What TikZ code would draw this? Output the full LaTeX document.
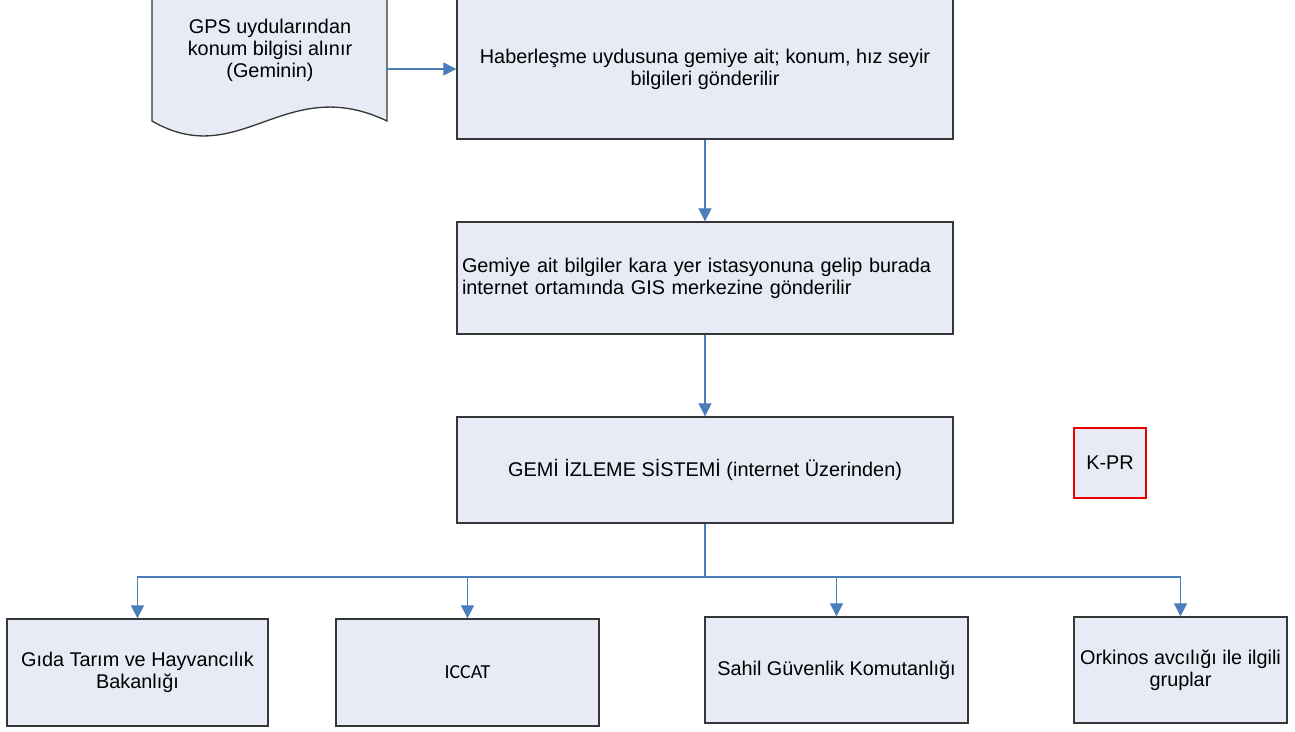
\documentclass[tikz,border=0pt]{standalone}
\usepackage{fontspec}
\setmainfont{Liberation Sans}
\newfontfamily\calibrifont{Carlito}
\usepackage{xcolor}
\usepackage{tikz}
\usetikzlibrary{positioning,calc,arrows.meta}
\definecolor{boxfill}{RGB}{231,235,245}
\definecolor{boxline}{RGB}{55,55,55}
\definecolor{linkblue}{RGB}{74,126,187}
\definecolor{kprred}{RGB}{230,0,0}
\tikzset{
	txt/.style={font=\fontsize{11.3}{12.6}\selectfont},
	box/.style={txt, draw=boxline, fill=boxfill, line width=0.75pt, inner sep=0pt, align=center},
	link/.style={draw=linkblue, line width=0.6pt, -{Triangle[width=7.4pt,length=7.4pt]}}
}
\begin{document}
\begin{tikzpicture}[x=0.02cm,y=-0.02cm]
								\def\U{0.02cm}
								\useasboundingbox (0,0) rectangle (1295,731);
								\clip (0,0) rectangle (1295,731);
								% belge sekli (gps)
								\draw[draw=boxline, fill=boxfill, line width=0.75pt] (152,-5) -- (152,121) .. controls (240,172) and (285,72) .. (387,121) -- (387,-5) -- cycle;
								\node[txt, align=center] (gps) at (270,50) {GPS uydularından\\konum bilgisi alınır\\(Geminin)};
								\coordinate (gpsout) at (387,69);
								% ana kutular
								\node[box, minimum width=496*\U, minimum height=140*\U] (haber) at (705,69) {Haberleşme uydusuna gemiye ait; konum, hız seyir\\bilgileri gönderilir};
								\node[box, minimum width=496*\U, minimum height=112*\U, text width=486*\U, align=left] (kara) at (705,278) {Gemiye ait bilgiler kara yer istasyonuna gelip burada\\internet ortamında GIS merkezine gönderilir};
								\node[box, minimum width=496*\U, minimum height=106*\U] (gis) at (705,470) {GEMİ İZLEME SİSTEMİ (internet Üzerinden)};
								\node[box, draw=kprred, line width=1.2pt, minimum width=72*\U, minimum height=70*\U] (kpr) at (1110,463) {K-PR};
								% alt kutular
								\node[box, minimum width=261*\U, minimum height=107*\U] (gida) at (137.5,672.5) {Gıda Tarım ve Hayvancılık\\Bakanlığı};
								\node[box, font=\calibrifont\fontsize{11.3}{12.6}\selectfont, minimum width=263*\U, minimum height=107*\U] (iccat) at (467.5,672.5) {ICCAT};
								\node[box, minimum width=263*\U, minimum height=106*\U] (sahil) at (836.5,670) {Sahil Güvenlik Komutanlığı};
								\node[box, minimum width=213*\U, minimum height=106*\U] (orkinos) at (1180.5,670) {Orkinos avcılığı ile ilgili\\gruplar};
								% baglantilar
								\coordinate (bus) at (705,577);
								\draw[link] (gpsout) -- (haber.west);
								\draw[link] (haber.south) -- (kara.north);
								\draw[link] (kara.south) -- (gis.north);
								\foreach \t in {gida,iccat,sahil,orkinos}
									\draw[link] (gis.south) -- (bus) -| (\t.north);
							\end{tikzpicture}
\end{document}
